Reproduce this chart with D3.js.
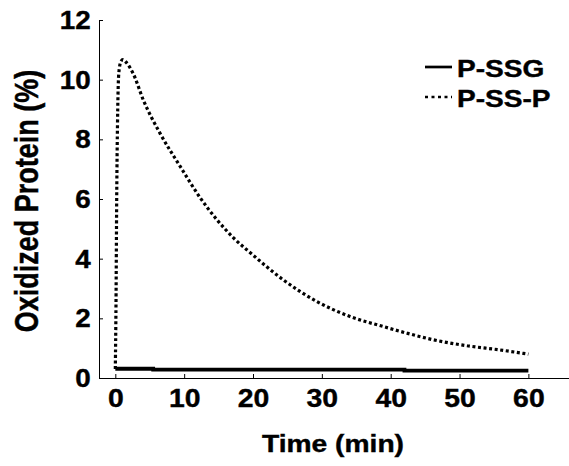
<!DOCTYPE html>
<html>
<head>
<meta charset="utf-8">
<script src="https://cdn.jsdelivr.net/npm/d3@7"></script>
<style>
  body { margin: 0; background: #fff; }
  text { font-family: "Liberation Sans", Arial, sans-serif; font-weight: bold; fill: #000; stroke: #000; stroke-width: 0.4px; }
</style>
</head>
<body>
<svg id="main" width="569" height="466"></svg>
<script>
"use strict";

//data
const xTicks = [0, 10, 20, 30, 40, 50, 60];
const yTicks = [0, 2, 4, 6, 8, 10, 12];
const seriesNames = ["P-SSG", "P-SS-P"];

// P-SSG (solid)
const pssgTime = [0, 5.5, 5.5, 42, 42, 60];
const pssgValue = [0.31, 0.31, 0.28, 0.28, 0.25, 0.25];

// P-SS-P (dotted)
const psspTime = [0, 0.1, 0.2, 0.35, 0.5, 0.8, 1.1, 1.5, 2.6, 4.1, 6.5, 9.4, 12.3, 17.2, 19.6, 24.4, 29.3, 34.1, 39.0, 42.4, 46.2, 51.1, 55.9, 60];
const psspValue = [0.3, 2.5, 6.0, 9.0, 10.2, 10.6, 10.67, 10.6, 10.2, 9.3, 8.2, 7.1, 6.05, 4.69, 4.2, 3.29, 2.56, 2.06, 1.72, 1.5, 1.28, 1.08, 0.94, 0.8];

//configurations
const box = { left: 99, right: 569, top: 20, bottom: 378 };

const mySvg = d3.select("#main");

const x = d3.scaleLinear().domain([-2.37, 65.9]).range([box.left, box.right]);
const y = d3.scaleLinear().domain([0, 12]).range([box.bottom, box.top]);

// axes, ticks point inward
const xAxis = mySvg.append("g")
  .attr("transform", `translate(0,${box.bottom})`)
  .call(d3.axisBottom(x).tickValues(xTicks).tickSize(-4).tickPadding(10));
const yAxis = mySvg.append("g")
  .attr("transform", `translate(${box.left},0)`)
  .call(d3.axisLeft(y).tickValues(yTicks).tickSize(-4).tickPadding(8));

[xAxis, yAxis].forEach((g) => {
  g.select(".domain").attr("stroke", "#000").attr("stroke-width", 1);
  g.selectAll(".tick line").attr("stroke", "#000");
  g.selectAll(".tick text")
    .style("font-family", '"Liberation Sans", Arial, sans-serif')
    .style("font-weight", "bold")
    .style("font-size", "26.5px")
    .attr("fill", "#000");
});
xAxis.selectAll(".tick text").attr("transform", "scale(1.07,1)");
yAxis.selectAll(".tick text").attr("transform", "scale(1.05,1)");

// lines
mySvg.append("path")
  .datum(d3.zip(pssgTime, pssgValue))
  .attr("fill", "none")
  .attr("stroke", "#000")
  .attr("stroke-width", 3.8)
  .attr("d", d3.line().x((d) => x(d[0])).y((d) => y(d[1])));

mySvg.append("path")
  .datum(d3.zip(psspTime, psspValue))
  .attr("fill", "none")
  .attr("stroke", "#000")
  .attr("stroke-width", 3.2)
  .attr("stroke-dasharray", "3,2.6")
  .attr("d", d3.line().curve(d3.curveMonotoneX).x((d) => x(d[0])).y((d) => y(d[1])));

// axis titles (picture is a little stretched sideways)
mySvg.append("text")
  .attr("transform", "translate(333,452) scale(1.2,1)")
  .attr("text-anchor", "middle")
  .style("font-size", "23.5px")
  .text("Time (min)");

mySvg.append("text")
  .attr("transform", "translate(38,201) scale(1.2,1) rotate(-90)")
  .attr("text-anchor", "middle")
  .style("font-size", "27px")
  .text("Oxidized Protein (%)");

// legend
const legend = mySvg.append("g").attr("transform", "translate(425,0)");
const legendY = [67, 97];
seriesNames.forEach((name, i) => {
  legend.append("line")
    .attr("x1", 0).attr("x2", 27)
    .attr("y1", legendY[i]).attr("y2", legendY[i])
    .attr("stroke", "#000")
    .attr("stroke-width", i === 0 ? 2.7 : 2.6)
    .attr("stroke-dasharray", i === 0 ? null : "3,3.5");
  legend.append("text")
    .attr("transform", `translate(32,${legendY[i] + 10}) scale(1.22,1)`)
    .style("font-size", "23px")
    .text(name);
});
</script>
</body>
</html>
